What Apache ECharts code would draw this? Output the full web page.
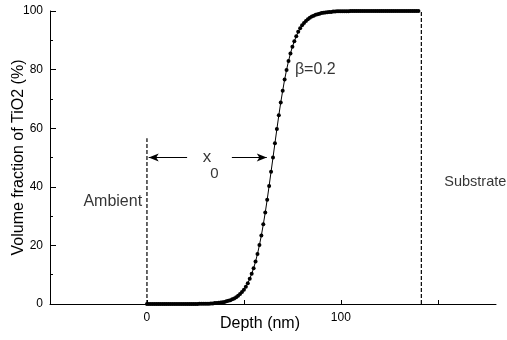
<!DOCTYPE html>
<html><head><meta charset="utf-8">
<script src="https://cdn.jsdelivr.net/npm/echarts@6/dist/echarts.min.js"></script>
<style>html,body{margin:0;padding:0;background:#fff}#c{width:507px;height:340px}</style>
</head><body><div id="c"></div>
<script>
// Depth (nm) sample positions
const depth = [0,1,2,3,4,5,6,7,8,9,10,11,12,13,14,15,16,17,18,19,20,21,22,23,24,25,26,27,28,29,30,31,32,33,34,35,36,37,38,39,40,41,42,43,44,45,46,47,48,49,50,51,52,53,54,55,56,57,58,59,60,61,62,63,64,65,66,67,68,69,70,71,72,73,74,75,76,77,78,79,80,81,82,83,84,85,86,87,88,89,90,91,92,93,94,95,96,97,98,99,100,101,102,103,104,105,106,107,108,109,110,111,112,113,114,115,116,117,118,119,120,121,122,123,124,125,126,127,128,129,130,131,132,133,134,135,136,137,138,139,140];
// Volume fraction of TiO2 (%)
const fraction = [0,0,0,0,0,0,0,0,0,0,0,0,0,0,0,0,0,0,0,0,0,0,0,0,0,0,0,
  0.1,0.1,0.1,0.1,0.1,0.1,0.2,0.2,0.3,0.3,0.4,0.5,0.6,0.7,0.9,1.1,1.3,1.6,1.9,2.3,2.8,3.4,4.1,4.9,5.9,7.1,8.6,10.3,12.2,14.5,17.1,20.1,23.4,27.2,31.2,35.6,40.3,45.1,
  50.0,54.9,59.7,64.4,68.8,72.8,76.6,79.9,82.9,85.5,87.8,89.7,91.4,92.9,94.1,95.1,95.9,96.6,97.2,97.7,98.1,98.4,98.7,98.9,99.1,99.3,99.4,99.5,99.6,99.7,99.7,99.8,99.8,99.9,99.9,99.9,99.9,99.9,99.9,99.9,
  100,100,100,100,100,100,100,100,100,100,100,100,100,100,100,100,100,100,100,100,100,100,100,100,100,100,100,100,100,100,100,100,100,100,100,100];
const xTickValues = [0, 50, 100, 150];
const xLabelValues = [0, 100];
const ambientLine = [[0, 0], [0, 56.6]];
const substrateLine = [[141.5, 0], [141.5, 100]];
const arrowLeft = [[20.7, 50], [0.9, 50]];
const arrowRight = [[43.8, 50], [61.8, 50]];
const annotations = [
  {text: 'Ambient', at: [-2.5, 35], side: 'left', size: 16},
  {text: 'Substrate', at: [153.3, 41.7], side: 'right', size: 14.5},
  {text: 'β=0.2', at: [76.3, 80], side: 'right', size: 16},
  {text: 'x', at: [31.0, 50], side: 'inside', size: 17},
  {text: '0', at: [34.8, 44.5], side: 'inside', size: 15}
];

const FONT = '"Liberation Sans", Arial, sans-serif';
const chart = echarts.init(document.getElementById('c'), null, {renderer: 'canvas'});
const dash = {color: '#000', width: 1.2, type: [4, 2]};

chart.setOption({
  animation: false,
  backgroundColor: '#fff',
  textStyle: {fontFamily: FONT, color: '#000'},
  grid: {left: 50, right: 11, top: 11, bottom: 36, containLabel: false, outerBoundsMode: 'none'},
  xAxis: {
    type: 'value', min: -50, max: 180,
    name: 'Depth (nm)', nameLocation: 'middle', nameGap: 12, nameMoveOverlap: false,
    nameTextStyle: {fontSize: 16, color: '#000', fontFamily: FONT, padding: [0, 26, 0, 0]},
    axisLine: {show: true, onZero: false, lineStyle: {color: '#000', width: 1}},
    axisTick: {show: true, inside: true, length: 4, customValues: xTickValues, lineStyle: {color: '#000'}},
    axisLabel: {show: true, customValues: xLabelValues, margin: 8, fontSize: 12, color: '#000', fontFamily: FONT},
    splitLine: {show: false}
  },
  yAxis: {
    type: 'value', min: 0, max: 100, interval: 20,
    name: 'Volume fraction of TiO2 (%)', nameLocation: 'middle', nameGap: 23, nameMoveOverlap: false,
    nameTextStyle: {fontSize: 16, color: '#000', fontFamily: FONT},
    axisLine: {show: true, onZero: false, lineStyle: {color: '#000', width: 1}},
    axisTick: {show: true, inside: true, length: 6, lineStyle: {color: '#000'}},
    minorTick: {show: true, splitNumber: 2, length: 3, lineStyle: {color: '#000'}},
    axisLabel: {margin: 7, fontSize: 12, color: '#000', fontFamily: FONT},
    splitLine: {show: false}
  },
  series: [
    {
      type: 'line', name: 'profile',
      data: depth.map((d, i) => [d, fraction[i]]),
      symbol: 'circle', symbolSize: 4, showSymbol: true,
      itemStyle: {color: '#000'},
      lineStyle: {color: '#000', width: 1},
      z: 3
    },
    {type: 'line', data: ambientLine, symbol: 'none', lineStyle: dash, z: 2},
    {type: 'line', data: substrateLine, symbol: 'none', lineStyle: dash, z: 2},
    {
      type: 'line', data: [], symbol: 'none',
      markLine: {
        silent: true, animation: false,
        symbol: ['none', 'arrow'], symbolSize: [6, 10],
        label: {show: false},
        lineStyle: {color: '#000', width: 1, type: 'solid'},
        data: [
          [{coord: arrowLeft[0]}, {coord: arrowLeft[1]}],
          [{coord: arrowRight[0]}, {coord: arrowRight[1]}]
        ]
      }
    },
    {
      type: 'scatter', symbolSize: 0, silent: true, z: 5,
      data: annotations.map(a => ({
        value: a.at,
        label: {
          show: true, formatter: a.text, position: a.side, distance: 0,
          fontSize: a.size, color: '#000', fontFamily: FONT,
          align: a.side === 'left' ? 'right' : (a.side === 'right' ? 'left' : 'center'),
          verticalAlign: 'middle'
        }
      }))
    }
  ]
});
</script>
</body></html>
